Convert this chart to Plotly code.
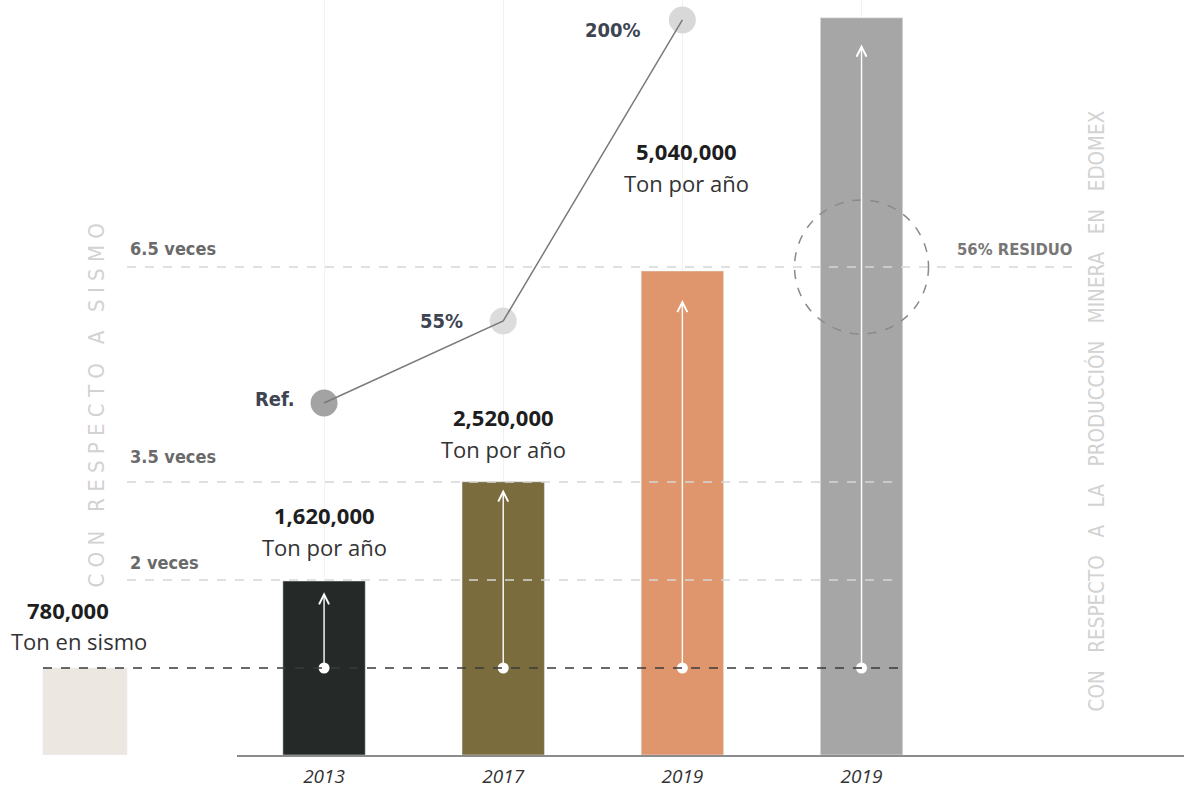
import plotly.graph_objects as go

# ---------------- data ----------------
years = ["2013", "2017", "2019", "2019"]
bar_height_ton = [1560000, 2450000, 4340000, 6610000]          # drawn heights
bar_colors = ["#252a28", "#7b6c3e", "#e0966c", "#a6a6a6"]
bar_labels = ["1,620,000", "2,520,000", "5,040,000", None]

sismo_value = 780000
sismo_label = "780,000"
sismo_color = "#ece8e1"

arrow_tip_ton = [1460000, 2380000, 4080000, 6370000]

line_x = [0, 1, 2]
line_y_ton = [3156000, 3892000, 6591000]
line_labels = ["Ref.", "55%", "200%"]
line_marker_colors = ["#a3a3a3", "#dcdcdc", "#d8d8d8"]

level_names = ["2 veces", "3.5 veces", "6.5 veces"]
level_ton = [1569000, 2448000, 4376000]

Y_MAX = 6770000
W, H = 1184, 790
COND = "DejaVu Sans Condensed, Roboto Condensed, Roboto"

fig = go.Figure()

fig.add_trace(go.Bar(x=[0], y=[sismo_value], marker_color=sismo_color, width=0.99,
                     xaxis="x2", yaxis="y", showlegend=False, hoverinfo="skip"))

fig.add_trace(go.Bar(x=list(range(len(years))), y=bar_height_ton, marker_color=bar_colors,
                     width=0.46, showlegend=False, hoverinfo="skip"))

# markers of the growth line (below the line itself)
fig.add_trace(go.Scatter(x=line_x, y=line_y_ton, mode="markers",
                         marker=dict(size=27, color=line_marker_colors, line=dict(width=0)),
                         showlegend=False, hoverinfo="skip"))
fig.add_trace(go.Scatter(x=line_x, y=line_y_ton, mode="lines",
                         line=dict(color="#7a7a7a", width=1.5),
                         showlegend=False, hoverinfo="skip"))

fig.add_trace(go.Scatter(x=list(range(len(years))), y=[sismo_value] * len(years), mode="markers",
                         marker=dict(size=11, color="white"), showlegend=False, hoverinfo="skip"))

shapes = []
shapes.append(dict(type="line", xref="paper", yref="y", x0=43 / W, x1=900 / W,
                   y0=sismo_value, y1=sismo_value, line=dict(color="#3a3a3a", width=1.3, dash="dash")))
level_ends = [900 / W, 900 / W, 1077 / W]
for lv, xe in zip(level_ton, level_ends):
    shapes.append(dict(type="line", xref="paper", yref="y", x0=127 / W, x1=xe,
                       y0=lv, y1=lv, line=dict(color="#d6d6d6", width=1.3, dash="dash")))
shapes.append(dict(type="circle", xref="x", yref="y", xsizemode="pixel", ysizemode="pixel",
                   xanchor=3, yanchor=level_ton[2], x0=-67, x1=67, y0=-67, y1=67,
                   line=dict(color="#8a8a8a", width=1.5, dash="dash")))

ann = []
num_font = dict(family="Open Sans", size=22, color="#1e1e1e", weight="bold")
sub_font = dict(family="Open Sans", size=22, color="#333333")
num_shift = [66, 65, 120]
sub_shift = [34, 33, 88]
for i, lab in enumerate(bar_labels):
    if lab is None:
        continue
    ann.append(dict(x=i, y=bar_height_ton[i], xref="x", yref="y", text=lab, showarrow=False,
                    font=num_font, yanchor="middle", yshift=num_shift[i], xshift=(4 if i == 2 else 0)))
    ann.append(dict(x=i, y=bar_height_ton[i], xref="x", yref="y", text="Ton por año", showarrow=False,
                    font=sub_font, yanchor="middle", yshift=sub_shift[i], xshift=(4 if i == 2 else 0)))

ann.append(dict(x=0, y=sismo_value, xref="x2", yref="y", text=sismo_label, showarrow=False,
                font=num_font, yanchor="middle", yshift=58, xshift=-17))
ann.append(dict(x=0, y=sismo_value, xref="x2", yref="y", text="Ton en sismo", showarrow=False,
                font=sub_font, yanchor="middle", yshift=27, xshift=-6))

for i, tip in enumerate(arrow_tip_ton):
    ann.append(dict(x=i, y=tip, ax=i, ay=sismo_value, xref="x", yref="y", axref="x", ayref="y",
                    text="", showarrow=True, arrowhead=5, arrowsize=1.4, arrowwidth=1.4,
                    arrowcolor="white", standoff=0, startstandoff=0))

cond_bold = dict(family=COND, size=20, color="#3d4452", weight="bold")
lab_xshift = [-27, -38, -39]
lab_yshift = [4, 0, -10]
for x, y, t, xs, ys in zip(line_x, line_y_ton, line_labels, lab_xshift, lab_yshift):
    ann.append(dict(x=x, y=y, xref="x", yref="y", text=t, showarrow=False, font=cond_bold,
                    xanchor="right", yanchor="middle", xshift=xs, yshift=ys))

lvl_font = dict(family=COND, size=18, color="#6a6a6a", weight="bold")
lvl_shift = [18, 26, 18]
for name, lv, ys in zip(level_names, level_ton, lvl_shift):
    ann.append(dict(x=128 / W, y=lv, xref="paper", yref="y", text=name, showarrow=False,
                    font=lvl_font, xanchor="left", yanchor="middle", yshift=ys))

ann.append(dict(x=3, y=level_ton[2], xref="x", yref="y", text="56% RESIDUO", showarrow=False,
                font=dict(family=COND, size=16.5, color="#777777", weight="bold"),
                xanchor="left", yanchor="middle", xshift=93, yshift=17))

nb = "\u00a0"
left_txt = nb.join(list("CON")) + nb * 3 + nb.join(list("RESPECTO")) + nb * 3 + "A" + nb * 3 + nb.join(list("SISMO"))
ann.append(dict(x=81 / W, y=(755 - 406) / 755, xref="paper", yref="paper", text=left_txt,
                showarrow=False, textangle=-90,
                font=dict(family=COND, size=22, color="#d2d2d2")))
right_txt = (nb * 3).join(["CON", "RESPECTO", "A", "LA", "PRODUCCIÓN", "MINERA", "EN", "EDOMEX"])
ann.append(dict(x=1111 / W, y=(755 - 411) / 755, xref="paper", yref="paper", text=right_txt,
                showarrow=False, textangle=-90,
                font=dict(family=COND, size=20.5, color="#d2d2d2")))

fig.update_layout(
    width=W, height=H,
    margin=dict(l=0, r=0, t=0, b=35),
    paper_bgcolor="white", plot_bgcolor="white",
    barmode="overlay",
    shapes=shapes, annotations=ann,
    xaxis=dict(domain=[237 / W, 1], range=[-0.486, 4.80],
               tickvals=list(range(len(years))), ticktext=years,
               showline=True, linecolor="#8c8c8c", linewidth=2,
               showgrid=True, gridcolor="#f2f2f2", gridwidth=1, zeroline=False, ticks="",
               tickfont=dict(family="Open Sans", size=19, color="#333333", style="italic"),
               ticklabelstandoff=3, fixedrange=True),
    xaxis2=dict(domain=[0, 170 / W], range=[-1, 1], anchor="y", visible=False),
    yaxis=dict(range=[0, Y_MAX], visible=False, fixedrange=True),
)

fig.write_html("out.html")
